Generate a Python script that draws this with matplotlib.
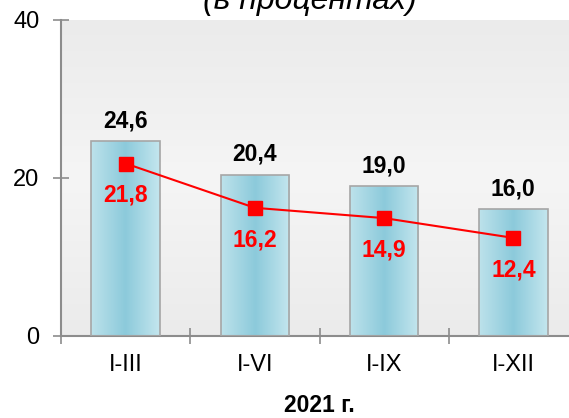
import matplotlib
matplotlib.use("Agg")
import matplotlib.pyplot as plt
import numpy as np
from matplotlib.colors import LinearSegmentedColormap

categories = ["I-III", "I-VI", "I-IX", "I-XII"]
bar_values = [24.6, 20.4, 19.0, 16.0]
line_values = [21.8, 16.2, 14.9, 12.4]
bar_labels = ["24,6", "20,4", "19,0", "16,0"]
line_labels = ["21,8", "16,2", "14,9", "12,4"]
yticks = [0, 20, 40]

plt.rcParams['font.family'] = ['Liberation Sans', 'DejaVu Sans']

W, H = 569, 418
fig = plt.figure(figsize=(W / 100, H / 100), dpi=100)
left, right, top, bottom = 61, 578, 19.5, 336
ax = fig.add_axes([left / W, (H - bottom) / H, (right - left) / W, (bottom - top) / H])

ax.set_xlim(-0.5, len(categories) - 0.5)
ax.set_ylim(0, 40)

# background gradient
bg = LinearSegmentedColormap.from_list("bg", ["#ebebeb", "#f5f5f5", "#ebebeb"])
grad = np.linspace(0, 1, 256).reshape(-1, 1)
ax.imshow(grad, cmap=bg, aspect="auto", extent=[-0.5, len(categories) - 0.5, 0, 40],
          zorder=0, origin="lower")

x = np.arange(len(categories))
width = 0.53
bars = ax.bar(x, bar_values, width=width, facecolor="none", edgecolor="#a6a6a6",
              linewidth=1.2, zorder=3)
barcm = LinearSegmentedColormap.from_list("bar", ["#bde2eb", "#8ccadb", "#c4e6ee"])
hgrad = np.linspace(0, 1, 256).reshape(1, -1)
for b in bars:
    im = ax.imshow(hgrad, cmap=barcm, aspect="auto",
                   extent=[b.get_x(), b.get_x() + b.get_width(), 0, b.get_height()],
                   zorder=2, origin="lower")
    im.set_clip_path(b)

ax.plot(x, line_values, color="#ff0000", linewidth=1.5, marker="s", markersize=9.5,
        zorder=5)

for xi, v, lab in zip(x, bar_values, bar_labels):
    ax.annotate(lab, (xi, v), xytext=(0, 14.5), textcoords="offset points",
                ha="center", va="center", fontsize=16.5, fontweight="bold", color="black")
for xi, v, lab in zip(x, line_values, line_labels):
    ax.annotate(lab, (xi, v), xytext=(0, -23), textcoords="offset points",
                ha="center", va="center", fontsize=16.5, fontweight="bold", color="#ff0000")

for s in ["top", "right"]:
    ax.spines[s].set_visible(False)
for s in ["left", "bottom"]:
    ax.spines[s].set_color("#8c8c8c")
    ax.spines[s].set_linewidth(1.5)

ax.set_yticks(yticks)
ax.set_yticklabels([str(t) for t in yticks], fontsize=17)
ax.set_xticks(x)
ax.set_xticklabels(categories, fontsize=17)
ax.set_xticks(np.arange(-0.5, len(categories), 1), minor=True)
ax.tick_params(axis="x", which="major", length=0, pad=13)
ax.tick_params(axis="x", which="minor", direction="inout", length=11, color="#8c8c8c", width=1.2)
ax.tick_params(axis="y", direction="inout", length=11, color="#8c8c8c", width=1.2, pad=10)

ax.set_xlabel("2021 г.", fontsize=16.5, fontweight="bold", labelpad=13)
fig.text(310 / W, (H - 9) / H, "(в процентах)", fontsize=23, fontstyle="italic",
         ha="center", va="baseline")

fig.savefig("out.png", dpi=100)
